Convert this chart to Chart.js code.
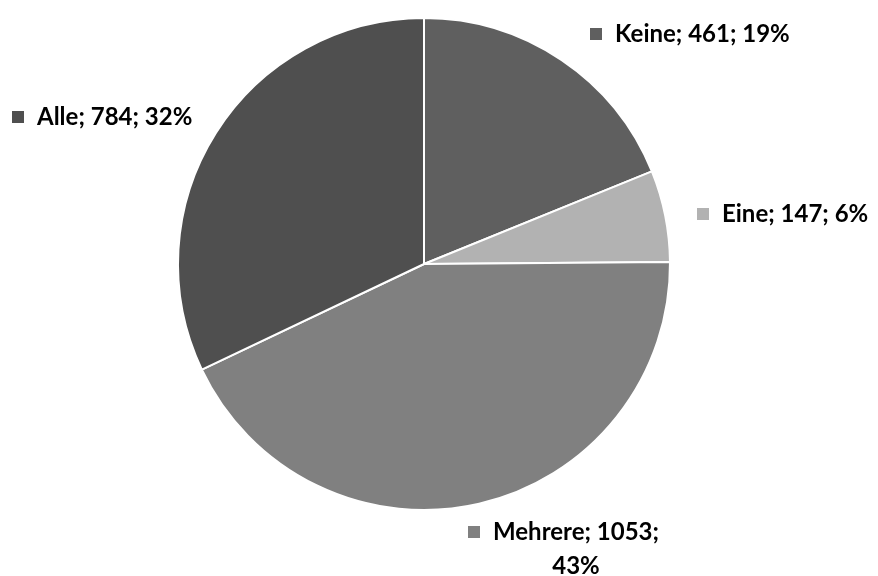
<!DOCTYPE html>
<html>
<head>
<meta charset="utf-8">
<script src="https://cdn.jsdelivr.net/npm/chart.js@4"></script>
<style>
  html, body { margin: 0; padding: 0; background: #fff; }
  #wrap { width: 878px; height: 576px; }
</style>
</head>
<body>
<div id="wrap"><canvas id="pieChart" width="878" height="576"></canvas></div>
<script>
// Werte aus dem Bild
const categories = ['Keine', 'Eine', 'Mehrere', 'Alle'];
const counts = [461, 147, 1053, 784];
const percents = ['19%', '6%', '43%', '32%'];
const colors = ['#5f5f5f', '#b2b2b2', '#808080', '#4f4f4f'];

// label placement (square marker left edge, text middle)
const labelPos = [
  { x: 590, y: 34 },
  { x: 697, y: 214 },
  { x: 468, y: 532, wrap: true },
  { x: 12, y: 117 }
];

const labelFont = 'bold 24px Lato, "Open Sans", sans-serif';

const outsideLabels = {
  id: 'outsideLabels',
  afterDraw(chart) {
    const ctx = chart.ctx;
    ctx.save();
    ctx.font = labelFont;
    ctx.textBaseline = 'middle';
    categories.forEach((cat, i) => {
      const p = labelPos[i];
      ctx.fillStyle = colors[i];
      ctx.fillRect(p.x, p.y - 6, 12, 12);
      ctx.fillStyle = '#000';
      ctx.textAlign = 'left';
      const tx = p.x + 25;
      if (p.wrap) {
        const line1 = cat + '; ' + counts[i] + ';';
        ctx.fillText(line1, tx, p.y);
        const w = ctx.measureText(line1).width;
        ctx.textAlign = 'center';
        ctx.fillText(percents[i], tx + w / 2, p.y + 34);
      } else {
        ctx.fillText(cat + '; ' + counts[i] + '; ' + percents[i], tx, p.y);
      }
    });
    ctx.restore();
  }
};

new Chart(document.getElementById('pieChart'), {
  type: 'pie',
  data: {
    labels: categories,
    datasets: [{
      data: counts,
      backgroundColor: colors,
      borderColor: '#ffffff',
      borderWidth: 2
    }]
  },
  options: {
    responsive: false,
    animation: false,
    layout: { padding: { top: 17, bottom: 65, left: 177, right: 207 } },
    plugins: {
      legend: { display: false },
      tooltip: { enabled: false }
    }
  },
  plugins: [outsideLabels]
});
</script>
</body>
</html>
